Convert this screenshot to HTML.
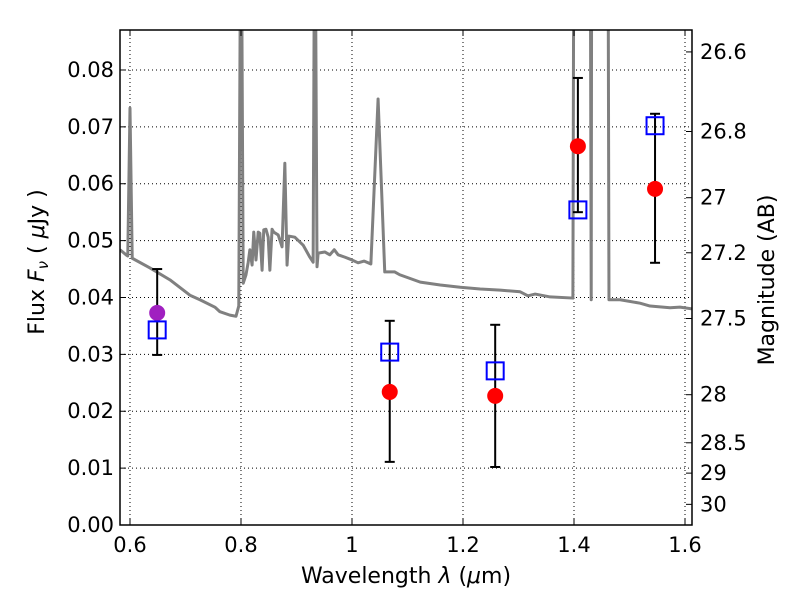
<!DOCTYPE html>
<html><head><meta charset="utf-8"><style>
body{margin:0;background:#fff;}
svg{display:block;font-family:"DejaVu Sans","Liberation Sans",sans-serif;}
</style></head><body>
<svg id="chart" width="800" height="600" viewBox="0 0 800 600"></svg>
<script>
const xTicks=[0.6,0.8,1.0,1.2,1.4,1.6];
const xTickLabels=["0.6","0.8","1","1.2","1.4","1.6"];
const yTicks=[0,0.01,0.02,0.03,0.04,0.05,0.06,0.07,0.08];
const yTickLabels=["0.00","0.01","0.02","0.03","0.04","0.05","0.06","0.07","0.08"];
const magTicks=[26.6,26.8,27,27.2,27.5,28,28.5,29,30];
const magTickLabels=["26.6","26.8","27","27.2","27.5","28","28.5","29","30"];
const specLam=[0.582,0.593,0.596,0.600,0.604,0.636,0.672,0.708,0.726,0.753,0.762,0.780,0.791,0.796,0.800,0.804,0.809,0.813,0.816,0.820,0.823,0.827,0.831,0.834,0.838,0.841,0.845,0.849,0.852,0.856,0.859,0.867,0.874,0.879,0.883,0.886,0.897,0.912,0.924,0.930,0.933,0.937,0.939,0.951,0.960,0.968,0.975,0.987,1.000,1.011,1.022,1.034,1.047,1.059,1.077,1.086,1.123,1.159,1.195,1.231,1.267,1.303,1.317,1.330,1.357,1.398,1.400,1.429,1.431,1.432,1.461,1.463,1.483,1.519,1.537,1.573,1.591,1.613];
const specFlux=[0.0484,0.0475,0.0473,0.0733,0.0469,0.0452,0.0431,0.0404,0.0396,0.0383,0.0375,0.0369,0.0367,0.0385,0.12,0.0425,0.0440,0.0462,0.0484,0.0457,0.0515,0.0466,0.0515,0.0513,0.0448,0.0519,0.0520,0.0506,0.0448,0.0520,0.0515,0.0510,0.0489,0.0636,0.0457,0.0508,0.0506,0.0492,0.0471,0.0462,0.12,0.0454,0.0478,0.0480,0.0475,0.0484,0.0475,0.0471,0.0466,0.0461,0.0464,0.0459,0.0749,0.0445,0.0445,0.0440,0.0427,0.0422,0.0418,0.0415,0.0413,0.0410,0.0403,0.0406,0.0401,0.0399,0.12,0.12,0.0396,0.12,0.12,0.0396,0.0396,0.0390,0.0385,0.0382,0.0383,0.0380];
const obsLam=[0.649,1.068,1.258,1.407,1.546];
const obsFlux=[0.0373,0.0234,0.0227,0.0666,0.0591];
const obsErrHi=[0.0450,0.0359,0.0352,0.0786,0.0723];
const obsErrLo=[0.0299,0.0111,0.0102,0.0550,0.0461];
const modelFlux=[0.0343,0.0304,0.0271,0.0554,0.0702];
const obsColors=["#a020c0","red","red","red","red"];

const L=120,R=692,T=30,B=525;
const xmin=0.582,xmax=1.6126,ymin=0,ymax=0.08703;
const X=v=>L+(v-xmin)/(xmax-xmin)*(R-L);
const Y=v=>B-(v-ymin)/(ymax-ymin)*(B-T);
const magToFlux=m=>Math.pow(10,(23.9-m)/2.5);
const svg=document.getElementById('chart');
const NS="http://www.w3.org/2000/svg";
function mk(tag,attrs,parent){const e=document.createElementNS(NS,tag);for(const k in attrs)e.setAttribute(k,attrs[k]);(parent||svg).appendChild(e);return e;}

const defs=mk('defs',{});
const cp=mk('clipPath',{id:'clip'},defs);
mk('rect',{x:L,y:T,width:R-L,height:B-T},cp);

const grid=mk('g',{});


xTicks.forEach(v=>{mk('line',{x1:X(v),x2:X(v),y1:T,y2:B,stroke:'#000','stroke-width':1,'stroke-dasharray':'1,3'},grid);});
yTicks.forEach(v=>{mk('line',{x1:L,x2:R,y1:Y(v),y2:Y(v),stroke:'#000','stroke-width':1,'stroke-dasharray':'1,3'},grid);});

const sp=mk('polyline',{points:specLam.map((l,i)=>X(l)+','+Y(specFlux[i])).join(' '),fill:'none',stroke:'#808080','stroke-width':3,'clip-path':'url(#clip)','stroke-linejoin':'round'});



obsLam.forEach((l,i)=>{
  const g=mk('g',{});
  
  
  const x=X(l);
  mk('line',{x1:x,x2:x,y1:Y(obsErrHi[i]),y2:Y(obsErrLo[i]),stroke:'#000','stroke-width':2},g);
  mk('line',{x1:x-5,x2:x+5,y1:Y(obsErrHi[i]),y2:Y(obsErrHi[i]),stroke:'#000','stroke-width':2},g);
  mk('line',{x1:x-5,x2:x+5,y1:Y(obsErrLo[i]),y2:Y(obsErrLo[i]),stroke:'#000','stroke-width':2},g);
  mk('circle',{cx:x,cy:Y(obsFlux[i]),r:8,fill:obsColors[i]},g);
  mk('rect',{x:x-8.5,y:Y(modelFlux[i])-8.5,width:17,height:17,fill:'none',stroke:'#0000ff','stroke-width':2},g);
});

const fr=mk('rect',{x:L,y:T,width:R-L,height:B-T,fill:'none',stroke:'#000','stroke-width':1.5});



xTicks.forEach((v,i)=>{
  mk('line',{x1:X(v),x2:X(v),y1:B,y2:B-6,stroke:'#000'});
  mk('line',{x1:X(v),x2:X(v),y1:T,y2:T+6,stroke:'#000'});
  const t=mk('text',{x:X(v),y:B+27,'font-size':21,'text-anchor':'middle'});
  t.textContent=xTickLabels[i];
  
  
});
yTicks.forEach((v,i)=>{
  mk('line',{x1:L,x2:L+6,y1:Y(v),y2:Y(v),stroke:'#000'});
  const t=mk('text',{x:L-6,y:Y(v)+7,'font-size':21,'text-anchor':'end'});
  t.textContent=yTickLabels[i];
  
  
});
magTicks.forEach((m,i)=>{
  const y=Y(magToFlux(m));
  mk('line',{x1:R,x2:R-6,y1:y,y2:y,stroke:'#000'});
  const t=mk('text',{x:R+8,y:y+7,'font-size':21,'text-anchor':'start'});
  t.textContent=magTickLabels[i];
  
  
});

const xt=mk('text',{x:406,y:583,'font-size':22,'text-anchor':'middle'});
xt.innerHTML='Wavelength  <tspan font-style="italic">λ</tspan> (<tspan font-style="italic">μ</tspan>m)';


const yt=mk('text',{x:0,y:0,'font-size':22,'text-anchor':'middle',transform:'translate(44,262) rotate(-90)'});
yt.innerHTML='Flux  <tspan font-style="italic">F</tspan><tspan font-style="italic" font-size="15" dy="4">ν</tspan><tspan dy="-4">  (  </tspan><tspan font-style="italic">μ</tspan>Jy )';


const rt=mk('text',{x:0,y:0,'font-size':22,'text-anchor':'middle',transform:'translate(774,280) rotate(-90)'});
rt.textContent='Magnitude (AB)';


</script>
</body></html>
